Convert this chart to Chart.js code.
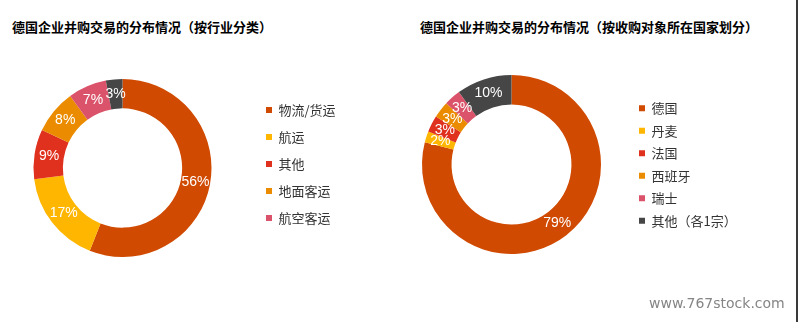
<!DOCTYPE html>
<html>
<head>
<meta charset="utf-8">
<script src="https://cdn.jsdelivr.net/npm/chart.js@4/dist/chart.umd.min.js"></script>
<style>
  html, body { margin: 0; padding: 0; background: #fff; }
  body { width: 798px; height: 322px; position: relative; overflow: hidden; font-family: "Noto Sans CJK SC", sans-serif; }
  .title { position: absolute; top: 18px; font-size: 13px; font-weight: 700; color: #000; white-space: nowrap; line-height: 18px; }
  .box { position: absolute; }
  .edge { position: absolute; left: 796px; top: 0; width: 2px; height: 322px; background: #3a3a3a; }
  .mark { position: absolute; left: 649px; top: 295px; font-family: "DejaVu Sans", sans-serif; font-size: 14px; color: #858585; }
</style>
</head>
<body>
<div class="title" style="left:12px">德国企业并购交易的分布情况（按行业分类）</div>
<div class="title" style="left:420px">德国企业并购交易的分布情况（按收购对象所在国家划分）</div>
<div class="box" style="left:-8px; top:40px; width:408px; height:260px"><canvas id="industryChart"></canvas></div>
<div class="box" style="left:390px; top:40px; width:406px; height:260px"><canvas id="countryChart"></canvas></div>
<div class="mark">www.767stock.com</div>
<div class="edge"></div>
<script>
// 按行业分类
const industryLabels = ["物流/货运", "航运", "其他", "地面客运", "航空客运", ""];
const industryValues = [56, 17, 9, 8, 7, 3];
const industryColors = ["#D04A02", "#FFB600", "#E0301E", "#EB8C00", "#DB536A", "#464646"];

// 按收购对象所在国家划分
const countryLabels = ["德国", "丹麦", "法国", "西班牙", "瑞士", "其他（各1宗）"];
const countryValues = [79, 2, 3, 3, 3, 10];
const countryColors = ["#D04A02", "#FFB600", "#E0301E", "#EB8C00", "#DB536A", "#464646"];

// 在每个扇区中间写百分比
const sliceLabels = {
  id: "sliceLabels",
  afterDatasetsDraw(chart) {
    const ctx = chart.ctx;
    const meta = chart.getDatasetMeta(0);
    const values = chart.data.datasets[0].data;
    ctx.save();
    ctx.font = "14px 'Liberation Sans', Arial, sans-serif";
    ctx.fillStyle = "#fff";
    ctx.textAlign = "center";
    ctx.textBaseline = "middle";
    meta.data.forEach((arc, i) => {
      const pos = arc.tooltipPosition();
      ctx.fillText(values[i] + "%", pos.x, pos.y);
    });
    ctx.restore();
  }
};

function makeDonut(id, labels, values, colors, pad, legendPadding, legendWidth, legendAlign, legendTop) {
  const ctx = document.getElementById(id).getContext("2d");
  return new Chart(ctx, {
    type: "doughnut",
    data: {
      labels: labels,
      datasets: [{
        data: values,
        backgroundColor: colors,
        borderWidth: 0
      }]
    },
    options: {
      responsive: true,
      maintainAspectRatio: false,
      animation: false,
      cutout: "67%",
      layout: { padding: pad },
      plugins: {
        tooltip: { enabled: false },
        legend: {
          position: "right",
          align: legendAlign,
          maxWidth: legendWidth,
          // 空标题只用来把图例往下挪一点
          title: {
            display: legendTop > 0,
            text: " ",
            font: { size: 5, lineHeight: 1 },
            padding: { top: 0, bottom: Math.max(legendTop - 5, 0) }
          },
          labels: {
            boxWidth: 6,
            boxHeight: 6,
            padding: legendPadding,
            color: "#333",
            font: { family: "'Noto Sans CJK SC'", size: 13 },
            filter: item => item.text !== ""
          }
        }
      }
    },
    plugins: [sliceLabels]
  });
}

makeDonut("industryChart", industryLabels, industryValues, industryColors,
  { left: 1, right: 58, top: 39, bottom: 43 }, 14, 90, "start", 10.5);
makeDonut("countryChart", countryLabels, countryValues, countryColors,
  { left: 3.5, right: 56.5, top: 35, bottom: 46 }, 9.5, 110, "center", 0);
</script>
</body>
</html>
